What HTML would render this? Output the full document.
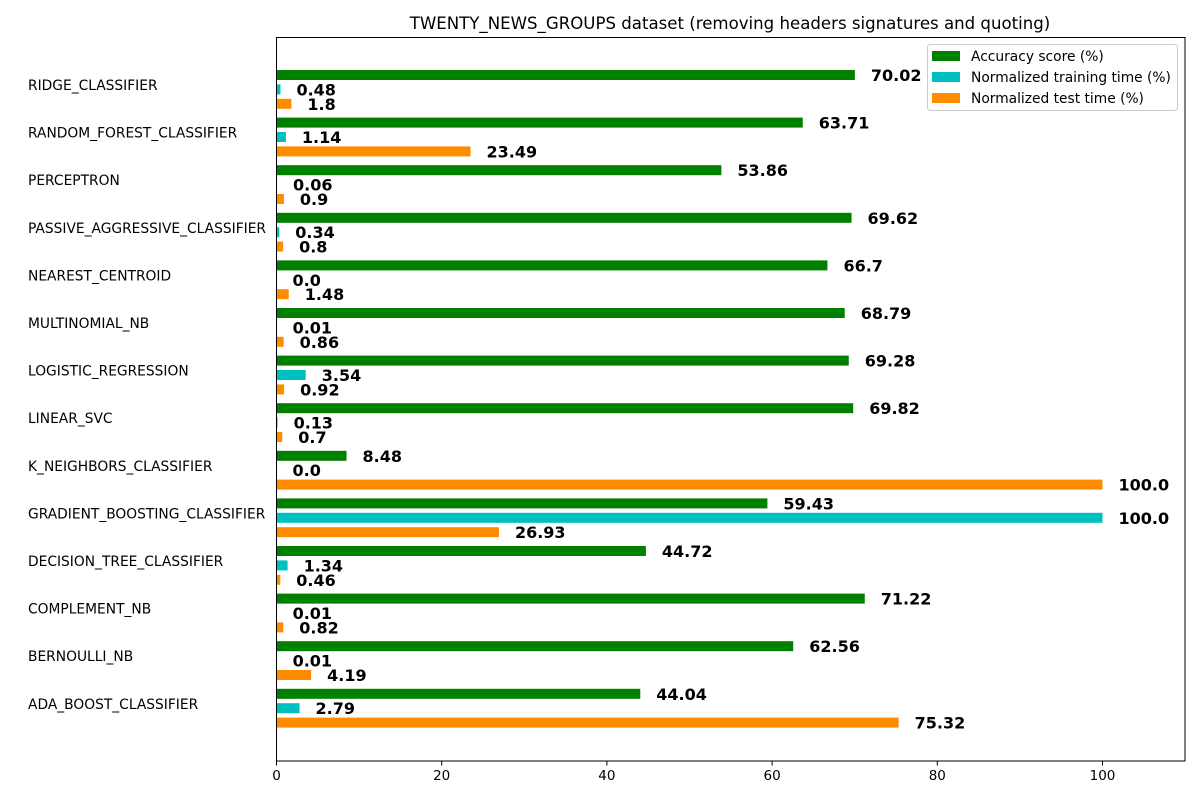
<!DOCTYPE html>
<html><head><meta charset="utf-8"><style>
body{margin:0;background:#fff;}
svg{font-family:"DejaVu Sans","Liberation Sans",sans-serif;}
</style></head><body>
<svg id="chart" width="1200" height="800">
<text x="730" y="29" font-size="16.6" text-anchor="middle">TWENTY_NEWS_GROUPS dataset (removing headers signatures and quoting)</text>
<g id="bars"></g>
<rect x="276.5" y="37.5" width="908.5" height="723.5" fill="none" stroke="#000" stroke-width="1"/>
<g id="xaxis"></g>
<g>
<rect x="927.5" y="44.5" width="250" height="66" rx="3" fill="#fff" stroke="#ccc"/>
<rect x="932" y="51" width="28" height="10" fill="#008000"/>
<text x="971" y="61" font-size="13.8">Accuracy score (%)</text>
<rect x="932" y="72" width="28" height="10" fill="#00bfbf"/>
<text x="971" y="82" font-size="13.8">Normalized training time (%)</text>
<rect x="932" y="93" width="28" height="10" fill="#ff8c00"/>
<text x="971" y="103" font-size="13.8">Normalized test time (%)</text>
</g>
</svg>
<script>
const categories=["RIDGE_CLASSIFIER","RANDOM_FOREST_CLASSIFIER","PERCEPTRON","PASSIVE_AGGRESSIVE_CLASSIFIER","NEAREST_CENTROID","MULTINOMIAL_NB","LOGISTIC_REGRESSION","LINEAR_SVC","K_NEIGHBORS_CLASSIFIER","GRADIENT_BOOSTING_CLASSIFIER","DECISION_TREE_CLASSIFIER","COMPLEMENT_NB","BERNOULLI_NB","ADA_BOOST_CLASSIFIER"];
const accuracy=[70.02,63.71,53.86,69.62,66.7,68.79,69.28,69.82,8.48,59.43,44.72,71.22,62.56,44.04];
const trainTime=[0.48,1.14,0.06,0.34,0.0,0.01,3.54,0.13,0.0,100.0,1.34,0.01,0.01,2.79];
const testTime=[1.8,23.49,0.9,0.8,1.48,0.86,0.92,0.7,100.0,26.93,0.46,0.82,4.19,75.32];
const xTicks=[0,20,40,60,80,100];
const NS="http://www.w3.org/2000/svg";
const x0=276.5,pxPer=8.26;
const xs=v=>x0+v*pxPer;
const ys=(k,s)=>75+47.6*k+14.4*s;
const bars=document.getElementById('bars');
function mk(tag,attrs,parent){const e=document.createElementNS(NS,tag);for(const k in attrs)e.setAttribute(k,attrs[k]);parent.appendChild(e);return e;}
const series=[[accuracy,"#008000","accuracy"],[trainTime,"#00bfbf","training"],[testTime,"#ff8c00","test"]];
categories.forEach((c,k)=>{
  const lab=mk('text',{x:28,y:ys(k,0)+15,'font-size':13.8},bars);
  lab.textContent=c;
  
  
  series.forEach(([arr,col,nm],s)=>{
    const v=arr[k],yc=ys(k,s);
    const r=mk('rect',{x:x0,y:yc-5,width:Math.max(0,xs(v)-x0),height:10,fill:col},bars);
    
    
    const t=mk('text',{x:xs(v)+16,y:yc+6,'font-size':16,'font-weight':'bold'},bars);
    t.textContent=String(v%1===0?v.toFixed(1):v);
    
    
  });
});
const xa=document.getElementById('xaxis');
xTicks.forEach(v=>{
  const l=mk('line',{x1:xs(v),x2:xs(v),y1:761,y2:765.5,stroke:'#000'},xa);
  
  
  const t=mk('text',{x:xs(v),y:780,'font-size':13.5,'text-anchor':'middle'},xa);
  t.textContent=v;
  
  
});
</script>
</body></html>
